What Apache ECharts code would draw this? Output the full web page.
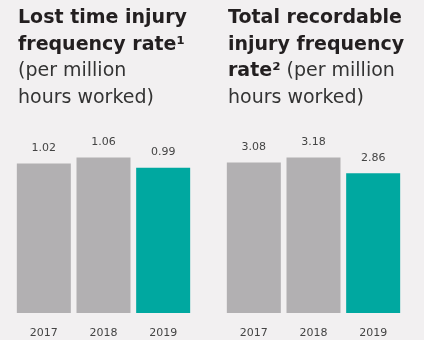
<!DOCTYPE html>
<html>
<head>
<meta charset="utf-8">
<script src="https://cdn.jsdelivr.net/npm/echarts@6/dist/echarts.min.js"></script>
<style>
  html, body { margin: 0; padding: 0; background: #f2f0f1; }
  #chart { width: 424px; height: 340px; }
</style>
</head>
<body>
<div id="chart"></div>
<script>
const years = ['2017', '2018', '2019']
const ltifr = [1.02, 1.06, 0.99]
const trifr = [3.08, 3.18, 2.86]

const GREY = '#b2b0b2'
const TEAL = '#00a8a0'
const FONT = 'DejaVu Sans'

// last year gets the highlight colour
function barData(vals) {
  return vals.map((v, i) => ({
    value: v,
    itemStyle: { color: i === vals.length - 1 ? TEAL : GREY }
  }))
}

const titleRich = {
  b: { fontFamily: FONT, fontWeight: 'bold', fontSize: 19, color: '#231f20', lineHeight: 26.5 },
  n: { fontFamily: FONT, fontWeight: 'normal', fontSize: 19, color: '#333', lineHeight: 26.5 }
}

let mycharts = echarts.init(document.getElementById('chart'))
mycharts.setOption({
  backgroundColor: '#f2f0f1',
  title: [
    {
      left: 13, top: 0,
      text: '{b|Lost time injury}\n{b|frequency rate¹}\n{n|(per million}\n{n|hours worked)}',
      textStyle: { rich: titleRich }
    },
    {
      left: 223, top: 0,
      text: '{b|Total recordable}\n{b|injury frequency}\n{b|rate²}{n| (per million}\n{n|hours worked)}',
      textStyle: { rich: titleRich }
    }
  ],
  grid: [
    { left: 14, width: 179, bottom: 27, height: 176 },
    { left: 224, width: 179, bottom: 27, height: 176 }
  ],
  xAxis: [0, 1].map(i => ({
    type: 'category',
    gridIndex: i,
    data: years,
    axisLine: { show: false },
    axisTick: { show: false },
    axisLabel: { margin: 15, fontFamily: FONT, fontSize: 11, color: '#444' }
  })),
  yAxis: [
    { gridIndex: 0, min: 0, max: 1.2, show: false },
    { gridIndex: 1, min: 0, max: 3.6, show: false }
  ],
  series: [ltifr, trifr].map((vals, i) => ({
    type: 'bar',
    xAxisIndex: i,
    yAxisIndex: i,
    barWidth: 54,
    data: barData(vals),
    label: {
      show: true,
      position: 'top',
      distance: 10,
      fontFamily: FONT,
      fontSize: 11,
      color: '#444',
      formatter: p => p.value.toFixed(2)
    }
  }))
})
</script>
</body>
</html>
